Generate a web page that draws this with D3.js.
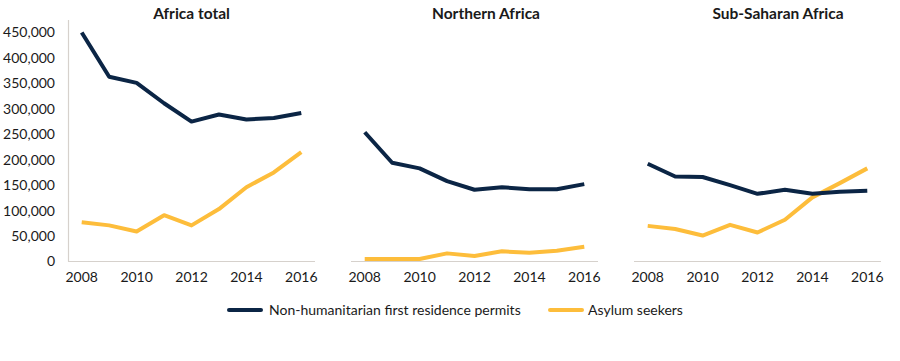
<!DOCTYPE html>
<html><head><meta charset="utf-8">
<script src="https://cdn.jsdelivr.net/npm/d3@7"></script>
<style>
body{margin:0;background:#fff;}
text{font-family:Lato,"Open Sans",sans-serif;fill:#1a1a1a;}
</style></head>
<body><svg id="chart" width="900" height="361"></svg>
<script>
const years = [2008,2009,2010,2011,2012,2013,2014,2015,2016];
const xTickLabels = ["2008","2010","2012","2014","2016"];
const yTicks = [0,50000,100000,150000,200000,250000,300000,350000,400000,450000];
const panelTitles = ["Africa total","Northern Africa","Sub-Saharan Africa"];
const seriesNames = ["Non-humanitarian first residence permits","Asylum seekers"];
const permitsTotal = [449000,362000,350000,310000,274000,288000,278000,281000,291000];
const asylumTotal = [76000,70000,58000,90000,70000,102000,145000,174000,214000];
const permitsNorth = [253000,193000,182000,157000,140000,145000,141000,141000,151000];
const asylumNorth = [4000,4000,4000,15000,10000,19000,16000,20000,28000];
const permitsSub = [191000,166000,165000,149000,132000,140000,132000,136000,138000];
const asylumSub = [69000,63000,50000,71000,56000,81000,125000,153000,182000];

const colors = ["#0b2545","#fdbd3b"];
const panels = [
  {title:panelTitles[0], x0:68, x1:315, tx:191.5, yAxis:true, data:[permitsTotal, asylumTotal]},
  {title:panelTitles[1], x0:351, x1:598, tx:486, yAxis:false, data:[permitsNorth, asylumNorth]},
  {title:panelTitles[2], x0:634, x1:881, tx:778, yAxis:false, data:[permitsSub, asylumSub]}
];
const svg = d3.select("#chart");
const y = d3.scaleLinear().domain([0,450000]).range([261,32]);
const axisColor = "#d6d1cc";

panels.forEach(p => {
  const x = d3.scaleBand().domain(years).range([p.x0,p.x1]);
  const g = svg.append("g");
  g.append("text").attr("x",p.tx).attr("y",18.5).attr("text-anchor","middle")
    .attr("font-size",15.5).attr("font-weight","bold").text(p.title);
  g.append("line").attr("x1",p.x0).attr("x2",p.x1).attr("y1",y(0)+0.5).attr("y2",y(0)+0.5)
    .attr("stroke",axisColor).attr("stroke-width",1.2);
  if (p.yAxis) {
    g.append("line").attr("x1",p.x0+0.5).attr("x2",p.x0+0.5).attr("y1",20).attr("y2",y(0)+0.5)
      .attr("stroke",axisColor).attr("stroke-width",1.2);
    const ya = d3.axisLeft(y).tickValues(yTicks).tickSize(0).tickPadding(0)
      .tickFormat(d3.format(","));
    const yg = g.append("g").attr("transform","translate(55,0)").call(ya);
    yg.select(".domain").remove();
    yg.selectAll("text").attr("font-size",14).attr("dy","0.35em")
      .style("font-family","Lato,'Open Sans',sans-serif").attr("fill","#1a1a1a");
  }
  const xa = d3.axisBottom(x).tickValues(xTickLabels.map(Number)).tickSize(0).tickPadding(0);
  const xg = g.append("g").attr("transform",`translate(0,${y(0)+11})`).call(xa);
  xg.select(".domain").remove();
  xg.selectAll("text").attr("font-size",14).attr("dy","0.71em")
    .style("font-family","Lato,'Open Sans',sans-serif").attr("fill","#1a1a1a");
  const line = d3.line().x((d,i)=>x(years[i])+x.bandwidth()/2).y(d=>y(d));
  [1,0].forEach(s => {
    g.append("path").datum(p.data[s]).attr("d",line).attr("fill","none")
      .attr("stroke",colors[s]).attr("stroke-width",4).attr("stroke-linejoin","round");
  });
});

const legend = [{x:229, tx:269, name:seriesNames[0], c:colors[0]},{x:550, tx:588, name:seriesNames[1], c:colors[1]}];
legend.forEach(l => {
  svg.append("line").attr("x1",l.x).attr("x2",l.x+32).attr("y1",310).attr("y2",310)
    .attr("stroke",l.c).attr("stroke-width",4).attr("stroke-linecap","round");
  svg.append("text").attr("x",l.tx).attr("y",310).attr("dy","0.35em").attr("font-size",14).text(l.name);
});
</script></body></html>
